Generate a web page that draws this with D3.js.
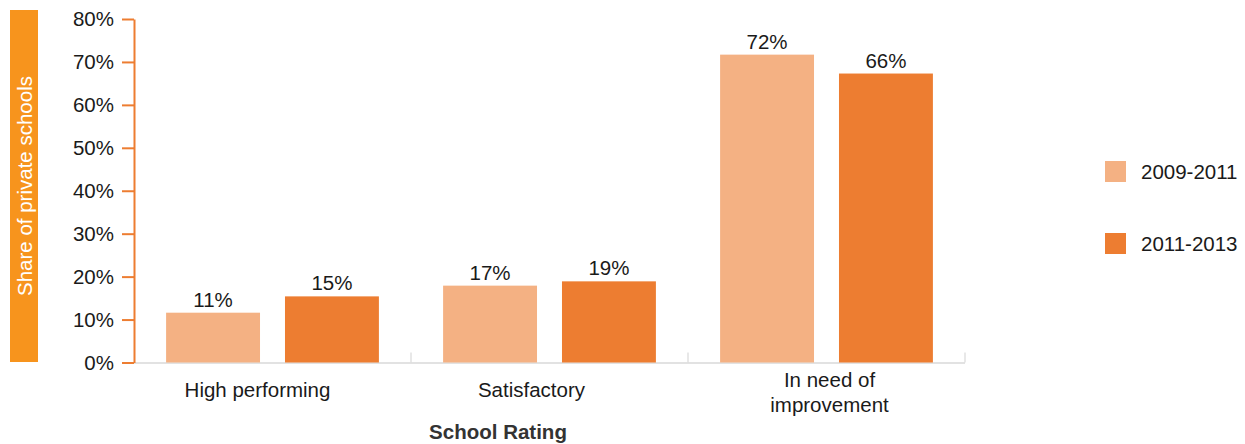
<!DOCTYPE html>
<html><head><meta charset="utf-8">
<script src="https://cdn.jsdelivr.net/npm/d3@7"></script>
<style>body{margin:0;background:#fff}svg{display:block;font-family:"Liberation Sans",Arial,sans-serif}</style>
</head><body><svg id="c" width="1245" height="444"></svg>
<script>
const categories = ["High performing", "Satisfactory", "In need of improvement"];
const categoryLines = [["High performing"], ["Satisfactory"], ["In need of", "improvement"]];
const seriesNames = ["2009-2011", "2011-2013"];
const values2009 = [11.6, 17.9, 71.7];
const values2011 = [15.4, 18.9, 67.3];
const labels2009 = ["11%", "17%", "72%"];
const labels2011 = ["15%", "19%", "66%"];
const yTicks = [0, 10, 20, 30, 40, 50, 60, 70, 80];
const colors = ["#F4B183", "#ED7D31"];

const FS = 20.5;
const svg = d3.select("#c");
const x0 = 134, x1 = 965, yTop = 19, yBot = 362.5;
const x = d3.scaleBand().domain(categories).range([x0, x1]).paddingInner(0).paddingOuter(0);
const xs = d3.scaleBand().domain(seriesNames).range([0, x.bandwidth()]).paddingInner(0.21).paddingOuter(0.27);
const y = d3.scaleLinear().domain([0, 80]).range([yBot, yTop]);
const labelShift = [-15, -18, 3];

// y title box
svg.append("rect").attr("x", 10).attr("y", 10).attr("width", 28).attr("height", 352).attr("fill", "#F7941D");
svg.append("text").attr("transform", `translate(32,186) rotate(-90)`).attr("text-anchor", "middle")
  .attr("fill", "#fff").attr("font-size", FS).text("Share of private schools");

// baseline
svg.append("line").attr("x1", x0).attr("x2", x1).attr("y1", yBot + 0.5).attr("y2", yBot + 0.5)
  .attr("stroke", "#d9d9d9").attr("stroke-width", 1.5);
// separators
categories.forEach((c, i) => {
  const xx = x(c) + x.bandwidth();
  svg.append("line").attr("x1", xx).attr("x2", xx).attr("y1", yBot - 10).attr("y2", yBot)
    .attr("stroke", "#d9d9d9").attr("stroke-width", 1.2);
});

// bars
const series = [values2009, values2011];
const labs = [labels2009, labels2011];
series.forEach((vals, si) => {
  categories.forEach((c, i) => {
    const bx = x(c) + xs(seriesNames[si]);
    svg.append("rect").attr("x", bx).attr("y", y(vals[i])).attr("width", xs.bandwidth())
      .attr("height", yBot - y(vals[i])).attr("fill", colors[si]);
    svg.append("text").attr("x", bx + xs.bandwidth() / 2).attr("y", y(vals[i]) - 6)
      .attr("text-anchor", "middle").attr("font-size", FS).attr("fill", "#1a1a1a").text(labs[si][i]);
  });
});

// y axis
const yAxis = d3.axisLeft(y).tickValues(yTicks).tickFormat(d => d + "%").tickSize(12).tickSizeOuter(0);
const ga = svg.append("g").attr("transform", `translate(${x0},0)`).call(yAxis);
ga.select(".domain").attr("stroke", "#ED7D31").attr("stroke-width", 2);
ga.selectAll(".tick line").attr("stroke", "#ED7D31").attr("stroke-width", 2);
ga.selectAll(".tick text").attr("font-size", FS).attr("fill", "#1a1a1a").attr("x", -20)
  .attr("font-family", "'Liberation Sans',Arial,sans-serif");

// x labels
categories.forEach((c, i) => {
  const lines = categoryLines[i];
  const cx = x(c) + x.bandwidth() / 2 + labelShift[i];
  const startY = lines.length === 1 ? 397 : 387;
  lines.forEach((ln, j) => {
    svg.append("text").attr("x", cx).attr("y", startY + j * 25).attr("text-anchor", "middle")
      .attr("font-size", FS).attr("fill", "#1a1a1a").text(ln);
  });
});
svg.append("text").attr("x", 498).attr("y", 439).attr("text-anchor", "middle")
  .attr("font-size", FS).attr("font-weight", "bold").attr("fill", "#333").text("School Rating");

// legend
seriesNames.forEach((s, i) => {
  const ly = 161 + i * 72;
  svg.append("rect").attr("x", 1105).attr("y", ly).attr("width", 21).attr("height", 21).attr("fill", colors[i]);
  svg.append("text").attr("x", 1141).attr("y", ly + 18).attr("font-size", FS).attr("fill", "#1a1a1a").text(s);
});
</script></body></html>
